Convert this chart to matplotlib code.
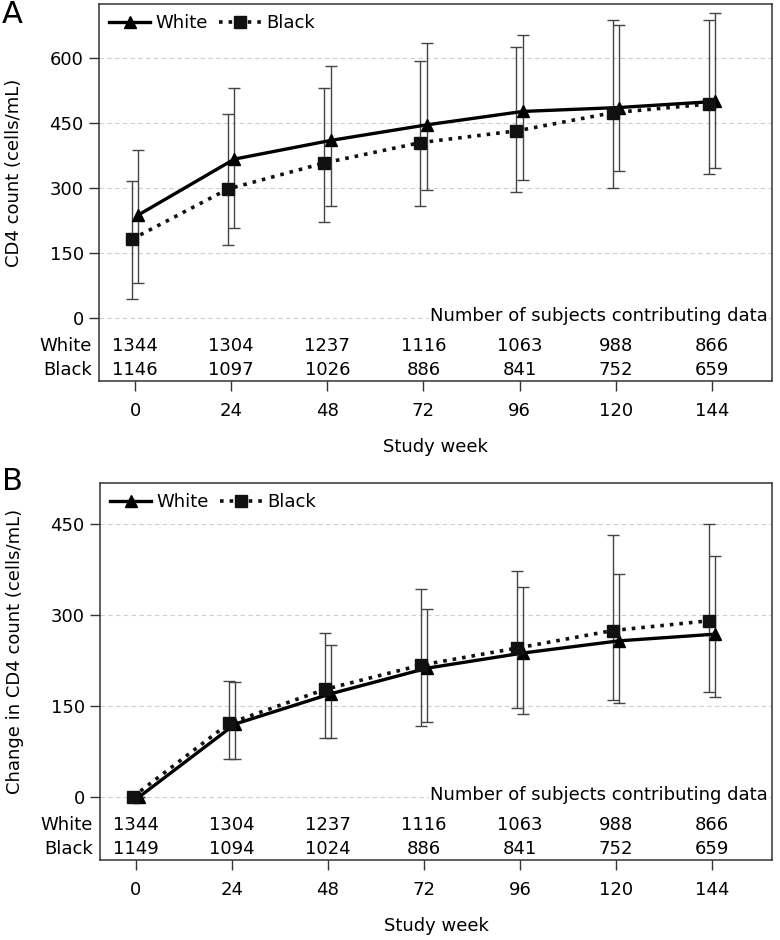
import numpy as np
import matplotlib
matplotlib.use("Agg")
import matplotlib.pyplot as plt

plt.rcParams["font.family"] = ["DejaVu Sans"]
plt.rcParams["font.size"] = 13

weeks = [0, 24, 48, 72, 96, 120, 144]

# Panel A: CD4 count
a_white_mean = [238, 367, 410, 446, 477, 486, 500]
a_white_lo = [81, 209, 259, 295, 319, 340, 346]
a_white_hi = [388, 532, 582, 635, 654, 677, 703]
a_black_mean = [182, 298, 358, 405, 432, 474, 494]
a_black_lo = [45, 169, 221, 258, 292, 301, 332]
a_black_hi = [317, 472, 530, 594, 626, 688, 689]
a_white_n = [1344, 1304, 1237, 1116, 1063, 988, 866]
a_black_n = [1146, 1097, 1026, 886, 841, 752, 659]

# Panel B: change in CD4 count
b_white_mean = [0, 120, 170, 212, 237, 257, 268]
b_white_lo = [0, 62, 97, 124, 137, 155, 165]
b_white_hi = [0, 190, 250, 309, 345, 367, 397]
b_black_mean = [0, 121, 177, 217, 245, 274, 290]
b_black_lo = [0, 62, 97, 116, 146, 159, 172]
b_black_hi = [0, 191, 270, 342, 372, 432, 450]
b_white_n = [1344, 1304, 1237, 1116, 1063, 988, 866]
b_black_n = [1149, 1094, 1024, 886, 841, 752, 659]

fig = plt.figure(figsize=(7.8, 9.4), dpi=100)
ax_a = fig.add_axes([0.1269, 0.5947, 0.8628, 0.4011])
ax_b = fig.add_axes([0.1282, 0.0851, 0.8615, 0.4011])

OFFSET = 0.8


def draw_panel(ax, wm, wl, wh, bm, bl, bh, wn, bn, ylim, yticks, ylabel):
    w = np.array(weeks, dtype=float)
    wm, wl, wh = map(np.array, (wm, wl, wh))
    bm, bl, bh = map(np.array, (bm, bl, bh))

    ax.errorbar(w + OFFSET, wm, yerr=[wm - wl, wh - wm], fmt="none",
                ecolor="#444444", elinewidth=1.0, capsize=4, capthick=1.0, zorder=2)
    ax.errorbar(w - OFFSET, bm, yerr=[bm - bl, bh - bm], fmt="none",
                ecolor="#444444", elinewidth=1.0, capsize=4, capthick=1.0, zorder=2)
    ax.plot(w + OFFSET, wm, "-", color="black", lw=2.4, marker="^",
            markersize=9, label="White", zorder=3)
    ax.plot(w - OFFSET, bm, ":", color="#111111", lw=2.6, marker="s",
            markersize=8.5, label="Black", zorder=4)

    ax.set_xlim(-9, 159)
    ax.set_ylim(*ylim)
    ax.set_yticks(yticks)
    ax.set_xticks(weeks)
    ax.tick_params(axis="y", direction="out", length=7, width=1, color="#333333", pad=4)
    ax.tick_params(axis="x", direction="out", length=7, width=1, color="#333333", pad=8)
    for y in yticks:
        ax.axhline(y, color="#cfcfcf", lw=0.8, ls=(0, (4, 3)), zorder=0)
    for s in ax.spines.values():
        s.set_color("#333333")
        s.set_linewidth(1.1)

    ax.set_ylabel(ylabel)
    ax.yaxis.set_label_coords(-0.113, 0.553)
    ax.set_xlabel("Study week")
    ax.xaxis.set_label_coords(0.5, -0.15)

    ax.legend(loc="upper left", bbox_to_anchor=(0.0, 1.0), ncol=2, frameon=False,
              handlelength=2.3, handletextpad=0.3, columnspacing=0.6,
              numpoints=1, borderaxespad=0.35, borderpad=0.2)

    tr = ax.get_xaxis_transform()
    ax.text(0.994, 0.172, "Number of subjects contributing data", transform=ax.transAxes,
            ha="right", va="center", zorder=5,
            bbox=dict(facecolor="white", edgecolor="none", pad=0.5))
    ax.text(-0.011, 0.093, "White", transform=ax.transAxes, ha="right", va="center")
    ax.text(-0.011, 0.029, "Black", transform=ax.transAxes, ha="right", va="center")
    for x, n1, n2 in zip(weeks, wn, bn):
        ax.text(x, 0.093, str(n1), transform=tr, ha="center", va="center")
        ax.text(x, 0.029, str(n2), transform=tr, ha="center", va="center")


draw_panel(ax_a, a_white_mean, a_white_lo, a_white_hi,
           a_black_mean, a_black_lo, a_black_hi, a_white_n, a_black_n,
           (-145, 725), [0, 150, 300, 450, 600], "CD4 count (cells/mL)")
draw_panel(ax_b, b_white_mean, b_white_lo, b_white_hi,
           b_black_mean, b_black_lo, b_black_hi, b_white_n, b_black_n,
           (-104, 517), [0, 150, 300, 450], "Change in CD4 count (cells/mL)")

fig.text(0.002, 0.985, "A", fontsize=22, ha="left", va="center")
fig.text(0.002, 0.488, "B", fontsize=22, ha="left", va="center")

plt.savefig("out.png", dpi=100)
plt.close()
